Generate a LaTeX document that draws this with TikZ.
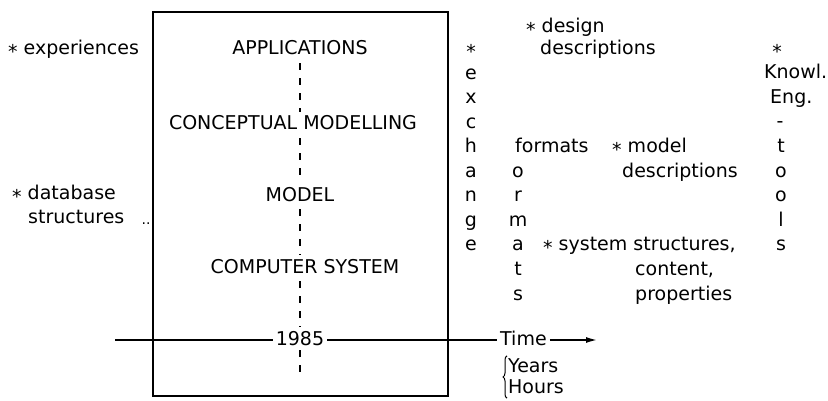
\documentclass[tikz,border=0pt]{standalone}
\usepackage{fontspec}
\setmainfont{DejaVu Sans}
\usetikzlibrary{arrows.meta,decorations.pathreplacing}

\newcommand{\bstar}{\raisebox{-4pt}{*}}

\begin{document}
\begin{tikzpicture}[x=1pt,y=-1pt,
	txt/.style={font=\fontsize{19}{23}\selectfont,inner sep=0pt,text height=14pt,text depth=4pt},
	word/.style={txt,anchor=west},
	frame/.style={draw=black,line width=1.3pt,inner sep=0pt},
	timeline/.style={draw=black,line width=1.4pt},
	dashline/.style={draw=black,line width=1.4pt,dash pattern=on 7pt off 8pt,shorten <=4pt,shorten >=4pt},
	bracket/.style={draw=black,line width=1pt,decorate,decoration={brace,amplitude=4pt}}
]

	\useasboundingbox (0,0) rectangle (828,401);

	% left side
	\node[word] (exp) at (8,50) {\bstar\ experiences};
	\node[word] (db) at (12,195) {\bstar\ database};
	\node[word] (struct) at (28,219) {structures};
	\node[anchor=base,inner sep=0pt,font=\fontsize{14}{16}\selectfont] (dots) at (146,225) {..};

	% the frame and its levels
	\node[frame,minimum width=295pt,minimum height=384pt] (box) at (300.5,204) {};
	\node[txt] (app) at (300,50) {APPLICATIONS};
	\node[txt] (concept) at (293,125) {CONCEPTUAL MODELLING};
	\node[txt] (model) at (300,196) {MODEL};
	\node[txt] (comp) at (305,268) {COMPUTER SYSTEM};
	\node[txt,inner xsep=3pt] (year) at (300,340) {1985};
	\coordinate (dashend) at (300,382);

	\draw[dashline] (app.south) -- (app.south |- concept.north);
	\draw[dashline] (app.south |- concept.south) -- (model.north);
	\draw[dashline] (model.south) -- (model.south |- comp.north);
	\draw[dashline] (model.south |- comp.south) -- (year.north);
	\draw[dashline,shorten <=1pt] (year.south) -- (dashend);

	% time axis
	\coordinate (tstart) at (115,340);
	\node[word] (time) at (500,340) {Time};
	\coordinate (tiptime) at (597,340);
	\draw[timeline] (tstart) -- (year.west);
	\draw[timeline] (year.east) -- ([xshift=-3pt]time.west);
	\draw[timeline,-{Latex[length=11pt,width=6pt]},shorten <=3pt] (time.east) -- (tiptime);
	\node[word] (years) at (508,367) {Years};
	\node[word] (hours) at (508,388) {Hours};
	\draw[bracket] ([xshift=-1pt,yshift=-1pt]hours.south west) -- ([xshift=-1pt,yshift=2pt]years.north west);

	% exchange column
	\foreach \ch [count=\i from 0] in {\bstar,e,x,c,h,a,n,g,e}
		\node[txt] (ex\i) at (471,{50+24.5*\i}) {\ch};

	\node[word] (formats) at (515,148) {formats};
	\foreach \ch [count=\i from 5] in {o,r,m,a,t,s}
		\node[txt] (fm\i) at (518,{50+24.5*\i}) {\ch};

	\node[word] (design) at (526,28) {\bstar\ design};
	\node[word] (designdesc) at (540,50) {descriptions};
	\node[word] (modelitem) at (612,148) {\bstar\ model};
	\node[word] (modeldesc) at (622,173) {descriptions};
	\node[word] (system) at (543,246) {\bstar\ system structures,};
	\node[word] (content) at (635,270) {content,};
	\node[word] (props) at (635,295) {properties};

	% tools column
	\node[txt] (kstar) at (777,50) {\bstar};
	\node[word] (knowl) at (764,74) {Knowl.};
	\node[word] (eng) at (770,99) {Eng.};
	\node[txt] (hyph) at (780,123) {-};
	\foreach \ch [count=\i from 4] in {t,o,o,l,s}
		\node[txt] (tl\i) at (781,{50+24.5*\i}) {\ch};

\end{tikzpicture}
\end{document}
